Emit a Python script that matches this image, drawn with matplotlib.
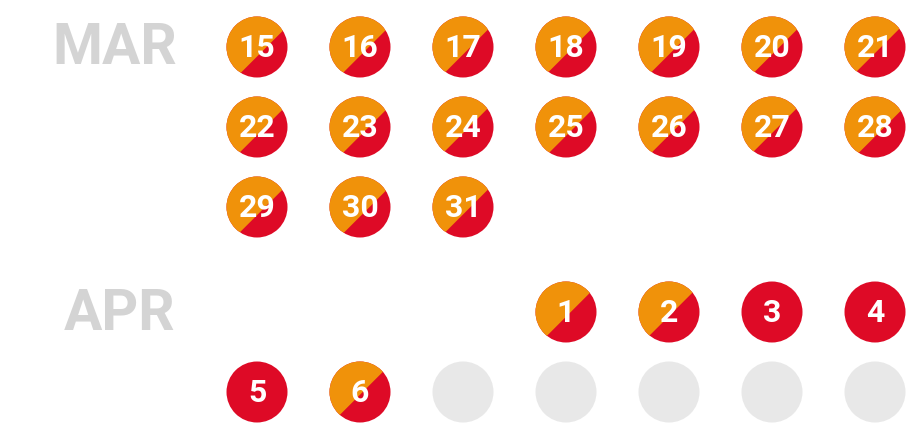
import matplotlib.pyplot as plt
import matplotlib.patches as mpatches
import numpy as np

# share of each circle coloured orange (rest is red); None = no data yet
mar_days = list(range(15, 32))
mar_share = [0.64, 0.63, 0.61, 0.61, 0.61, 0.61, 0.59,
             0.62, 0.63, 0.59, 0.63, 0.62, 0.59, 0.64,
             0.62, 0.64, 0.61]
apr_days = list(range(1, 12))
apr_share = [0.57, 0.56, 0.0, 0.0, 0.0, 0.54, None, None, None, None, None]

mar_start_col = 0   # 15 March is first column
apr_start_col = 3   # 1 April falls on the fourth column

ORANGE = '#f0920a'
RED = '#de0a26'
EMPTY = '#e8e8e8'
LABEL = '#d4d4d4'

x0, dx = 257, 103
dy = 80
r = 30.5
mar_y0 = 47
apr_y0 = 312


def line_offset(share):
    # distance of the split line from centre (as fraction of r) so that
    # the orange part covers `share` of the area
    lo, hi = -1.0, 1.0
    for _ in range(60):
        mid = (lo + hi) / 2
        red = (np.arccos(mid) - mid * np.sqrt(1 - mid ** 2)) / np.pi
        if 1 - red < share:
            lo = mid
        else:
            hi = mid
    return (lo + hi) / 2


def draw_day(ax, cx, cy, day, share):
    if share is None:
        ax.add_patch(mpatches.Circle((cx, cy), r, color=EMPTY, lw=0))
        return
    circ = mpatches.Circle((cx, cy), r, color=RED, lw=0)
    ax.add_patch(circ)
    if share > 0:
        d = line_offset(share) * r
        n = np.array([1, 1]) / np.sqrt(2)   # points down-right on screen
        t = np.array([1, -1]) / np.sqrt(2)
        c = np.array([cx, cy])
        base = c + n * d
        big = 3 * r
        pts = [base + t * big, base - t * big,
               base - t * big - n * big, base + t * big - n * big]
        poly = mpatches.Polygon(pts, closed=True, color=ORANGE, lw=0)
        ax.add_patch(poly)
        poly.set_clip_path(circ)
    ax.text(cx, cy + 1, str(day), color='white', fontsize=23,
            fontweight='bold', family='Roboto', ha='center', va='center')


fig = plt.figure(figsize=(9.23, 4.24), dpi=100)
ax = fig.add_axes([0, 0, 1, 1])
ax.set_xlim(0, 923)
ax.set_ylim(424, 0)
ax.set_aspect('equal')
ax.axis('off')

for i, (day, share) in enumerate(zip(mar_days, mar_share)):
    k = i + mar_start_col
    draw_day(ax, x0 + (k % 7) * dx, mar_y0 + (k // 7) * dy, day, share)

for i, (day, share) in enumerate(zip(apr_days, apr_share)):
    k = i + apr_start_col
    draw_day(ax, x0 + (k % 7) * dx, apr_y0 + (k // 7) * dy, day, share)

ax.text(177, mar_y0 + 1, 'MAR', color=LABEL, fontsize=41, fontweight='bold',
        family='Roboto', ha='right', va='center')
ax.text(175, apr_y0 + 3, 'APR', color=LABEL, fontsize=41, fontweight='bold',
        family='Roboto', ha='right', va='center')

fig.savefig('out.png', dpi=100)
